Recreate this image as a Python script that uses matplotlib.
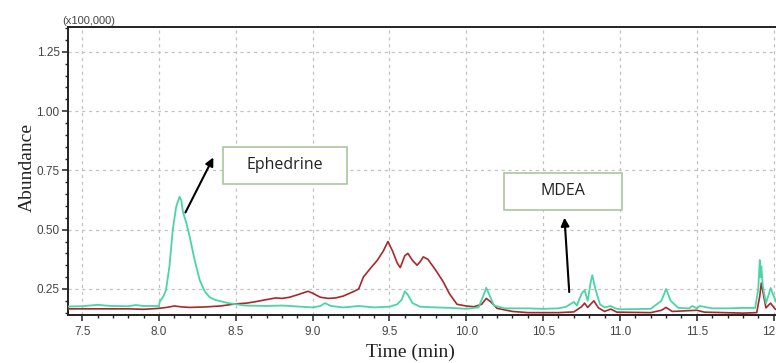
import matplotlib
matplotlib.use("Agg")
import matplotlib.pyplot as plt
from matplotlib.ticker import MultipleLocator
from matplotlib.patches import Rectangle

# ---- data (time in min, abundance in x100,000) ----
green_time = [7.41, 7.5, 7.55, 7.6, 7.65, 7.7, 7.8, 7.85, 7.9, 8.0, 8.005, 8.03, 8.046, 8.068,
              8.09, 8.112, 8.134, 8.145, 8.156, 8.178, 8.2, 8.232, 8.265, 8.298, 8.33, 8.364,
              8.452, 8.56, 8.7, 8.8, 8.9, 9.0, 9.05, 9.08, 9.12, 9.2, 9.3, 9.4, 9.5, 9.55, 9.58,
              9.6, 9.62, 9.65, 9.7, 9.8, 9.9, 10.0, 10.08, 10.11, 10.13, 10.15, 10.18, 10.25,
              10.4, 10.5, 10.6, 10.65, 10.7, 10.72, 10.75, 10.77, 10.79, 10.81, 10.82, 10.84,
              10.87, 10.9, 10.94, 10.97, 11.0, 11.1, 11.2, 11.27, 11.3, 11.33, 11.38, 11.45,
              11.47, 11.5, 11.52, 11.6, 11.7, 11.8, 11.88, 11.9, 11.91, 11.915, 11.92, 11.93,
              11.95, 11.97, 11.98, 12.0, 12.03, 12.066]
green_abund = [0.176, 0.177, 0.18, 0.183, 0.18, 0.178, 0.177, 0.182, 0.178, 0.178, 0.196, 0.22,
               0.246, 0.344, 0.5, 0.597, 0.639, 0.625, 0.575, 0.528, 0.47, 0.372, 0.288, 0.239,
               0.215, 0.204, 0.19, 0.18, 0.178, 0.18, 0.176, 0.172, 0.178, 0.19, 0.178, 0.172,
               0.178, 0.172, 0.175, 0.185, 0.205, 0.24, 0.225, 0.19, 0.175, 0.172, 0.17, 0.166,
               0.172, 0.22, 0.255, 0.225, 0.18, 0.168, 0.168, 0.166, 0.168, 0.175, 0.195, 0.18,
               0.23, 0.245, 0.2, 0.28, 0.308, 0.25, 0.185, 0.172, 0.178, 0.168, 0.164, 0.165,
               0.166, 0.2, 0.25, 0.2, 0.17, 0.168, 0.178, 0.168, 0.178, 0.168, 0.168, 0.17,
               0.17, 0.25, 0.372, 0.30, 0.345, 0.26, 0.19, 0.23, 0.254, 0.22, 0.178, 0.168]

red_time = [7.41, 7.6, 7.8, 7.9, 8.0, 8.05, 8.1, 8.15, 8.2, 8.3, 8.4, 8.5, 8.57, 8.627, 8.7, 8.76,
            8.8, 8.85, 8.9, 8.97, 9.0, 9.05, 9.1, 9.15, 9.2, 9.27, 9.3, 9.33, 9.38, 9.42, 9.46,
            9.49, 9.52, 9.55, 9.57, 9.6, 9.62, 9.65, 9.68, 9.7, 9.72, 9.75, 9.8, 9.85, 9.89, 9.94,
            10.0, 10.05, 10.1, 10.13, 10.16, 10.2, 10.3, 10.4, 10.6, 10.7, 10.75, 10.77, 10.79,
            10.83, 10.86, 10.9, 10.94, 10.98, 11.2, 11.27, 11.3, 11.34, 11.5, 11.55, 11.8, 11.89,
            11.91, 11.92, 11.93, 11.95, 11.98, 12.01, 12.066]
red_abund = [0.166, 0.166, 0.166, 0.164, 0.168, 0.172, 0.178, 0.174, 0.172, 0.174, 0.178, 0.187,
             0.19, 0.196, 0.205, 0.212, 0.21, 0.215, 0.225, 0.24, 0.232, 0.215, 0.21, 0.212, 0.22,
             0.24, 0.25, 0.3, 0.34, 0.37, 0.41, 0.45, 0.41, 0.36, 0.34, 0.39, 0.40, 0.37, 0.35,
             0.365, 0.385, 0.375, 0.33, 0.28, 0.23, 0.185, 0.178, 0.175, 0.185, 0.21, 0.195,
             0.168, 0.155, 0.15, 0.15, 0.153, 0.175, 0.19, 0.172, 0.2, 0.17, 0.155, 0.165, 0.152,
             0.15, 0.16, 0.172, 0.155, 0.16, 0.152, 0.148, 0.15, 0.22, 0.275, 0.24, 0.17, 0.19,
             0.165, 0.152]

x_ticks = [7.5, 8.0, 8.5, 9.0, 9.5, 10.0, 10.5, 11.0, 11.5, 12.0]
y_ticks = [0.25, 0.50, 0.75, 1.00, 1.25]

GREEN = '#48d6a4'
RED = '#a8282c'

fig = plt.figure(figsize=(7.76, 3.63), dpi=100)
ax = fig.add_axes([68/776, 1-315/363, 1 - 68/776 + 0.01, (315-27)/363])

ax.plot(red_time, red_abund, color=RED, lw=1.2, zorder=3)
ax.plot(green_time, green_abund, color=GREEN, lw=1.3, zorder=4)

ax.set_xlim(7.408, 12.066)
ax.set_ylim(0.14, 1.355)
ax.set_xticks(x_ticks)
ax.set_xticklabels([f"{v:.1f}" for v in x_ticks])
ax.set_yticks(y_ticks)
ax.set_yticklabels([f"{v:.2f}" for v in y_ticks])
ax.xaxis.set_minor_locator(MultipleLocator(0.1))
ax.yaxis.set_minor_locator(MultipleLocator(0.05))

ax.grid(True, which='major', color='#c2c2c2', linestyle=(0, (2.5, 3)), linewidth=0.9)
for s in ['left', 'bottom', 'top']:
    ax.spines[s].set_linewidth(1.4)
    ax.spines[s].set_color('#222222')
ax.spines['right'].set_visible(False)

ax.tick_params(axis='both', which='major', direction='out', length=4, width=1.1,
               labelsize=8.5, labelcolor='#444444', color='#222222', pad=2)
ax.tick_params(axis='both', which='minor', direction='out', length=2.5, width=1.0,
               color='#222222')
ax.tick_params(axis='x', which='major', pad=4)
for lab in ax.get_xticklabels() + ax.get_yticklabels():
    lab.set_family('Liberation Sans')

fig.text(27/776, 1-168/363, 'Abundance', rotation=90, ha='center', va='center',
         family='Liberation Serif', fontsize=14, color='#222222')
fig.text(410/776, 1-352/363, 'Time (min)', ha='center', va='center',
         family='Liberation Serif', fontsize=14, color='#222222')
fig.text(62/776, 1-21/363, '(x100,000)', ha='left', va='center',
         family='Liberation Sans', fontsize=8, color='#444444')


def box(cx, cy, w, h, label):
    # cx, cy, w, h in figure pixels (origin bottom-left)
    r = Rectangle((cx - w/2, cy - h/2), w, h, transform=None, facecolor='white',
                  edgecolor='#a9c79c', lw=1.2, zorder=6)
    fig.patches.append(r)
    fig.text(cx/776, cy/363, label, ha='center', va='center',
             family='Open Sans', fontsize=11.5, color='#222222', zorder=7)


box(285, 363-165, 124, 37, 'Ephedrine')
box(563, 363-191, 118, 37, 'MDEA')

ax.annotate('', xy=(8.362, 0.815), xytext=(8.164, 0.562),
            arrowprops=dict(arrowstyle='-|>', color='black', lw=1.5, mutation_scale=12), zorder=8)
ax.annotate('', xy=(10.638, 0.562), xytext=(10.671, 0.225),
            arrowprops=dict(arrowstyle='-|>', color='black', lw=1.5, mutation_scale=12), zorder=8)

fig.savefig('out.png', dpi=100)
